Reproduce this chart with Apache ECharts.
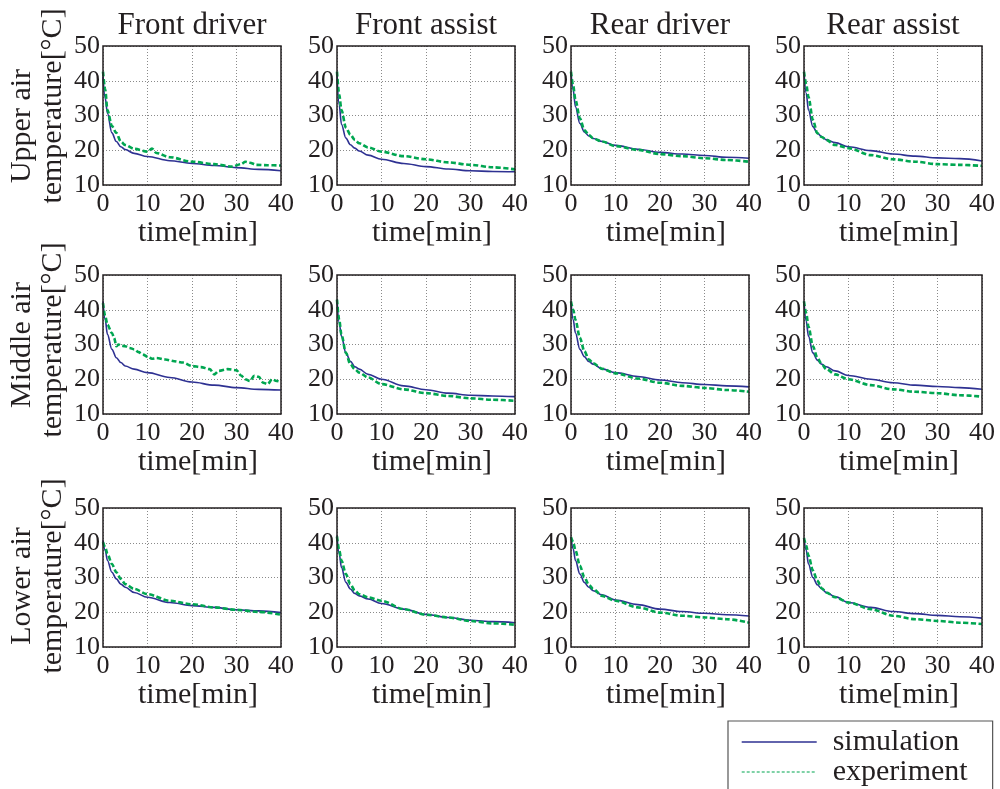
<!DOCTYPE html>
<html>
<head>
<meta charset="utf-8">
<script src="https://cdn.jsdelivr.net/npm/echarts@6/dist/echarts.min.js"></script>
<style>
html,body{margin:0;padding:0;background:#fff;}
#chart{width:1000px;height:789px;}
</style>
</head>
<body>
<div id="chart"></div>
<script>
// ---------------- data ----------------
const columnTitles = ['Front driver', 'Front assist', 'Rear driver', 'Rear assist'];
const rowLabels = ['Upper air', 'Middle air', 'Lower air'];
const yLabelUnit = 'temperature[\u00B0C]';
const xLabel = 'time[min]';
const seriesNames = ['simulation', 'experiment'];
const xTicks = [0, 10, 20, 30, 40];
const yTicks = [10, 20, 30, 40, 50];

// common time base [min]
const time = [0, 0.5, 1, 2, 3, 4, 5, 7, 10, 15, 20, 25, 30, 35, 40];

// Upper air
const upperFrontDriverSim = [41.2, 35, 30.6, 25, 22.5, 21, 20.2, 19.1, 18.2, 17, 16.2, 15.6, 15, 14.5, 14.1];
const upperFrontDriverExpTime = [0, 0.5, 1, 2, 3, 4, 5, 7, 10, 11, 12, 15, 20, 25, 29, 31, 32, 33, 34.5, 37, 40];
const upperFrontDriverExp = [42.6, 37.5, 31.5, 27, 25, 22.5, 21.5, 20.4, 19.6, 20.5, 19.2, 18, 16.7, 16, 15.3, 16, 16.7, 16.4, 15.8, 15.7, 15.6];
const upperFrontAssistSim = [41.5, 33, 27.5, 23.5, 21.6, 20.6, 19.8, 18.6, 17.4, 16.2, 15.3, 14.6, 14.1, 13.9, 13.8];
const upperFrontAssistExp = [42.6, 36, 31.6, 26.5, 24.5, 23, 22, 20.8, 19.6, 18.3, 17.4, 16.5, 15.8, 15.1, 14.5];
const upperRearDriverSim = [42.6, 37.3, 32.5, 27.7, 25.3, 24.1, 23.4, 22.5, 21.4, 20.3, 19.4, 18.9, 18.5, 18.0, 17.7];
const upperRearDriverExp = [42.6, 38.5, 34.5, 29.2, 25.8, 24.4, 23.4, 22.5, 21.2, 20.1, 18.9, 18.3, 17.7, 17.2, 16.7];
const upperRearAssistSim = [42.6, 36.4, 31.6, 26.8, 24.9, 23.9, 23, 22.2, 21, 19.9, 18.9, 18.3, 17.8, 17.6, 16.9];
const upperRearAssistExp = [42.6, 39, 35.4, 28.7, 24.9, 23.8, 23, 21.5, 20.6, 18.6, 17.4, 16.7, 16, 15.8, 15.5];

// Middle air
const middleFrontDriverSim = [42.4, 37.1, 32.9, 28.6, 26.2, 24.8, 23.8, 22.9, 21.9, 20.5, 19.2, 18.3, 17.6, 17.1, 16.9];
const middleFrontDriverExpTime = [0, 0.5, 1, 2, 2.5, 3, 3.5, 4, 5, 6, 7, 8, 9, 10, 11, 12, 14, 16, 18, 20, 22, 24, 25, 26, 28, 30, 31, 32, 33, 34, 35, 36, 37, 38, 39, 40];
const middleFrontDriverExp = [41.9, 38.1, 35.7, 33.3, 31.9, 29.5, 30, 29.7, 29.5, 29, 28.6, 27.8, 27.1, 26.5, 25.9, 26.1, 25.7, 25.2, 24.8, 23.8, 23.5, 22.9, 21.4, 22.4, 22.9, 22.6, 21.1, 20, 19.5, 21, 20.7, 19, 18.6, 20, 19.5, 19.2];
const middleFrontAssistSim = [42.9, 36.2, 32.4, 27.6, 25.2, 23.6, 22.9, 21.4, 20, 18.1, 17, 16, 15.4, 15.2, 15];
const middleFrontAssistExp = [42.9, 37.1, 32.9, 27.6, 24.3, 22.9, 21.9, 20.5, 18.6, 17.1, 16, 15.2, 14.5, 14.1, 13.8];
const middleRearDriverSim = [42.4, 37.1, 33.3, 28.6, 26.5, 25.1, 24.3, 23, 21.9, 20.8, 19.8, 19, 18.5, 18.1, 17.8];
const middleRearDriverExp = [42.4, 40, 37.1, 31.9, 28.1, 25.7, 24.6, 23, 21.7, 20.2, 19, 18.1, 17.5, 16.9, 16.4];
const middleRearAssistSim = [42.4, 36.7, 32.4, 27.6, 25.5, 24.3, 23.6, 22.4, 21.1, 20, 19, 18.3, 17.9, 17.6, 17.1];
const middleRearAssistExp = [42.4, 39, 35.2, 29.5, 26.2, 24.3, 22.9, 21.4, 20, 18.3, 17.1, 16.4, 16, 15.4, 15];

// Lower air
const lowerFrontDriverSim = [40.7, 37.8, 34.9, 31.5, 29.6, 28.1, 27.2, 25.7, 24.3, 22.8, 21.9, 21.4, 20.7, 20.4, 19.9];
const lowerFrontDriverExp = [40.2, 38.7, 36.8, 33.9, 31.5, 29.6, 28.1, 26.7, 25.2, 23.3, 22.3, 21.4, 20.7, 20.1, 19.3];
const lowerFrontAssistSim = [42.1, 36.8, 32.9, 28.6, 26.7, 25.4, 24.7, 23.8, 22.5, 20.9, 19.4, 18.5, 17.7, 17.3, 17];
const lowerFrontAssistExp = [41.8, 37.8, 34.9, 31, 28.1, 26.2, 25.2, 24.3, 23.3, 20.9, 19.3, 18.5, 17.5, 16.8, 16.4];
const lowerRearDriverSim = [41.6, 38.2, 34.9, 31, 28.6, 27.2, 26.2, 25, 23.5, 22.2, 20.9, 20.2, 19.7, 19.3, 18.9];
const lowerRearDriverExp = [41.6, 40.2, 37.8, 33.4, 30.1, 27.9, 26.7, 24.7, 23.3, 21.4, 19.9, 19, 18.5, 18, 17];
const lowerRearAssistSim = [41.4, 37.8, 33.9, 30, 27.9, 26.7, 25.7, 24.5, 22.8, 21.4, 20.2, 19.6, 19.1, 18.7, 18.3];
const lowerRearAssistExp = [41.4, 39.2, 36.3, 32, 29.1, 26.9, 25.7, 24.3, 22.8, 20.9, 19, 18, 17.5, 17, 16.6];

// ---------------- build ----------------
const zip = (xs, ys) => xs.map((x, i) => [x, ys[i]]);
const panels = [
  [[time, upperFrontDriverSim], [upperFrontDriverExpTime, upperFrontDriverExp]],
  [[time, upperFrontAssistSim], [time, upperFrontAssistExp]],
  [[time, upperRearDriverSim], [time, upperRearDriverExp]],
  [[time, upperRearAssistSim], [time, upperRearAssistExp]],
  [[time, middleFrontDriverSim], [middleFrontDriverExpTime, middleFrontDriverExp]],
  [[time, middleFrontAssistSim], [time, middleFrontAssistExp]],
  [[time, middleRearDriverSim], [time, middleRearDriverExp]],
  [[time, middleRearAssistSim], [time, middleRearAssistExp]],
  [[time, lowerFrontDriverSim], [time, lowerFrontDriverExp]],
  [[time, lowerFrontAssistSim], [time, lowerFrontAssistExp]],
  [[time, lowerRearDriverSim], [time, lowerRearDriverExp]],
  [[time, lowerRearAssistSim], [time, lowerRearAssistExp]]
];

const FONT = '"Liberation Serif", "Times New Roman", serif';
const INK = '#231f20';
const SIM_COLOR = '#2e3192';
const EXP_COLOR = '#00a651';
const gridLefts = [103, 337, 571, 804];
const gridTops = [46, 275, 508];
const GW = 178, GH = 139;

const grids = [], xAxes = [], yAxes = [], series = [], titles = [], graphics = [];
const gridLine = { show: true, lineStyle: { color: '#8a8a8a', type: [1, 2], width: 1 } };

panels.forEach((p, k) => {
  const r = Math.floor(k / 4), c = k % 4;
  grids.push({ left: gridLefts[c], top: gridTops[r], width: GW, height: GH,
    show: true, borderColor: INK, borderWidth: 1.5, backgroundColor: 'transparent', z: 5 });
  xAxes.push({ gridIndex: k, type: 'value', min: xTicks[0], max: xTicks[xTicks.length - 1], interval: 10,
    axisLine: { show: false }, axisTick: { show: false }, splitLine: gridLine,
    axisLabel: { margin: 6, fontSize: 26, fontFamily: FONT, color: INK },
    name: xLabel, nameLocation: 'middle', nameGap: 30,
    nameTextStyle: { fontSize: 30, fontFamily: FONT, color: INK, padding: [0, 0, 0, 12] } });
  yAxes.push({ gridIndex: k, type: 'value', min: yTicks[0], max: yTicks[yTicks.length - 1], interval: 10,
    axisLine: { show: false }, axisTick: { show: false }, splitLine: gridLine,
    axisLabel: { margin: 3, fontSize: 26, fontFamily: FONT, color: INK } });
  series.push({ type: 'line', name: seriesNames[0], xAxisIndex: k, yAxisIndex: k,
    data: zip(p[0][0], p[0][1]), symbol: 'none', smooth: 0.35, smoothMonotone: 'x',
    lineStyle: { color: SIM_COLOR, width: 1.6 }, itemStyle: { color: SIM_COLOR }, z: 3, silent: true });
  series.push({ type: 'line', name: seriesNames[1], xAxisIndex: k, yAxisIndex: k,
    data: zip(p[1][0], p[1][1]), symbol: 'none', smooth: 0.3, smoothMonotone: 'x',
    lineStyle: { color: EXP_COLOR, width: 2.6, type: [5, 2.5] }, itemStyle: { color: EXP_COLOR }, z: 4, silent: true });
});

columnTitles.forEach((t, c) => {
  titles.push({ text: t, left: gridLefts[c] + GW / 2, top: 10, textAlign: 'center', padding: 0,
    textStyle: { fontSize: 31, fontWeight: 'normal', fontFamily: FONT, color: INK } });
});

const yLabelPos = [[126, 106], [345, 340], [586, 576]];
rowLabels.forEach((lab, r) => {
  graphics.push({ type: 'text', x: 22, y: yLabelPos[r][0], rotation: Math.PI / 2,
    style: { text: lab, font: '30px ' + FONT, fill: INK, align: 'center', verticalAlign: 'middle' } });
  graphics.push({ type: 'text', x: 53, y: yLabelPos[r][1], rotation: Math.PI / 2,
    style: { text: yLabelUnit, font: '30px ' + FONT, fill: INK, align: 'center', verticalAlign: 'middle' } });
});

const option = {
  animation: false,
  backgroundColor: '#ffffff',
  title: titles,
  grid: grids,
  xAxis: xAxes,
  yAxis: yAxes,
  series: series,
  graphic: graphics,
  legend: {
    orient: 'vertical', left: 728, top: 721, height: 64,
    padding: [6, 25, 8, 13], itemGap: 0,
    itemWidth: 75, itemHeight: 14,
    borderColor: '#555', borderWidth: 1.2, borderRadius: 0,
    backgroundColor: '#fff',
    itemStyle: { opacity: 0 },
    textStyle: { fontSize: 30, fontFamily: FONT, color: INK, padding: [0, 0, 0, 11], lineHeight: 30 },
    data: [
      { name: seriesNames[0], lineStyle: { width: 1.4 } },
      { name: seriesNames[1], lineStyle: { width: 1.2, type: [3, 2] } }
    ]
  }
};

const chart = echarts.init(document.getElementById('chart'), null, { renderer: 'canvas' });
chart.setOption(option);
</script>
</body>
</html>
